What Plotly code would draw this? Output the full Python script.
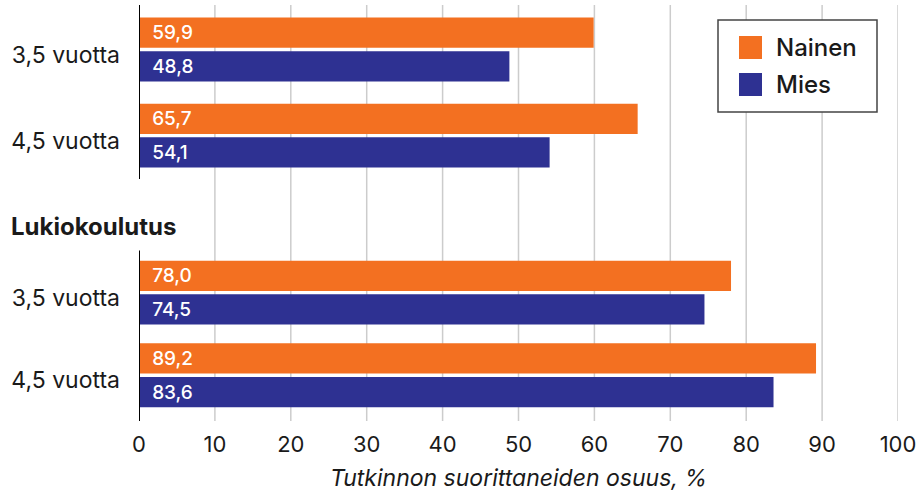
import plotly.graph_objects as go

# ---- data ----
categories = ["3,5 vuotta", "4,5 vuotta", "3,5 vuotta", "4,5 vuotta"]
group_header = "Lukiokoulutus"
series_names = ["Nainen", "Mies"]
nainen = [59.9, 65.7, 78.0, 89.2]
mies = [48.8, 54.1, 74.5, 83.6]
x_ticks = [0, 10, 20, 30, 40, 50, 60, 70, 80, 90, 100]
x_title = "Tutkinnon suorittaneiden osuus, %"

# ---- layout constants ----
W, H = 917, 493
L, R, T, B = 139, 19, 5, 72
pos = [0, 1.024, 2.893, 3.875]          # category centres (layout)
label_shift = 0.06                      # labels sit slightly below centre
y_range = [4.42, -0.53]
ORANGE = "#F37021"
BLUE = "#2E3192"
FONT = "Inter, Roboto, Arial, sans-serif"
TXT = "#1a1a1a"
NB = "\u00a0\u00a0"


def fmt(v):
    return NB + f"{v:.1f}".replace(".", ",")


fig = go.Figure()
for name, vals, col, off in [(series_names[0], nainen, ORANGE, -0.38),
                             (series_names[1], mies, BLUE, 0.02)]:
    fig.add_trace(go.Bar(
        y=pos, x=vals, orientation="h", name=name,
        marker=dict(color=col, line=dict(width=0)),
        width=[0.36] * len(vals), offset=off,
        text=[fmt(v) for v in vals], textposition="inside",
        insidetextanchor="start",
        textfont=dict(color="white", size=19, family=FONT, weight=500),
        showlegend=False, hoverinfo="skip",
    ))

shapes = []
# vertical gridlines (not at 0, where the axis segments are)
for t in x_ticks[1:]:
    shapes.append(dict(type="line", xref="x", yref="paper", x0=t, x1=t,
                       y0=0, y1=1, layer="below",
                       line=dict(color="#cccccc", width=1.5)))
# y-axis line segments per group
for y0, y1 in [(-0.53, 1.54), (2.39, 4.42)]:
    shapes.append(dict(type="line", xref="x", yref="y", x0=0, x1=0,
                       y0=y0, y1=y1, layer="above",
                       line=dict(color="black", width=2)))

# manual legend box
pw = W - L - R
ph = H - T - B


def px_x(p):
    return (p - L) / pw


def px_y(p):
    return (H - B - p) / ph


shapes.append(dict(type="rect", xref="paper", yref="paper",
                   x0=px_x(718), x1=px_x(877), y0=px_y(112), y1=px_y(20),
                   fillcolor="white", line=dict(color="#444444", width=1.5),
                   layer="above"))
annotations = []
for i, (nm, col) in enumerate(zip(series_names, [ORANGE, BLUE])):
    top = 36 + i * 37
    shapes.append(dict(type="rect", xref="paper", yref="paper",
                       x0=px_x(739), x1=px_x(762),
                       y0=px_y(top + 23), y1=px_y(top),
                       fillcolor=col, line=dict(width=0), layer="above"))
    annotations.append(dict(text=nm, xref="paper", yref="paper",
                            x=px_x(774), y=px_y(top + 11.5),
                            xanchor="left", yanchor="middle", showarrow=False,
                            font=dict(size=24, color=TXT, family=FONT,
                                      weight=500)))

annotations.append(dict(text="<b>" + group_header + "</b>", xref="paper",
                        yref="y", x=px_x(9), y=2.10, xanchor="left",
                        yanchor="middle", showarrow=False,
                        font=dict(size=24, color=TXT, family=FONT)))

fig.update_layout(
    width=W, height=H, autosize=False,
    margin=dict(l=L, r=R, t=T, b=B, autoexpand=False),
    paper_bgcolor="white", plot_bgcolor="white",
    barmode="overlay",
    font=dict(family=FONT, color=TXT, size=22),
    shapes=shapes, annotations=annotations,
    xaxis=dict(range=[0, 100], tickvals=x_ticks, showgrid=False,
               zeroline=False, showline=False, ticks="", automargin=False,
               ticklabelstandoff=8,
               tickfont=dict(size=22, color=TXT, family=FONT),
               title=dict(text="<i>" + x_title + "</i>", standoff=13,
                          font=dict(size=23, color=TXT, family=FONT))),
    yaxis=dict(range=y_range, tickvals=[p + label_shift for p in pos],
               ticktext=categories, automargin=False,
               showgrid=False, zeroline=False, showline=False, ticks="",
               ticklabelstandoff=18,
               tickfont=dict(size=23, color=TXT, family=FONT)),
)

fig.write_html("out.html", config={"displayModeBar": False},
               post_script="document.body.style.margin='0';"
                           "document.body.style.padding='0';")
